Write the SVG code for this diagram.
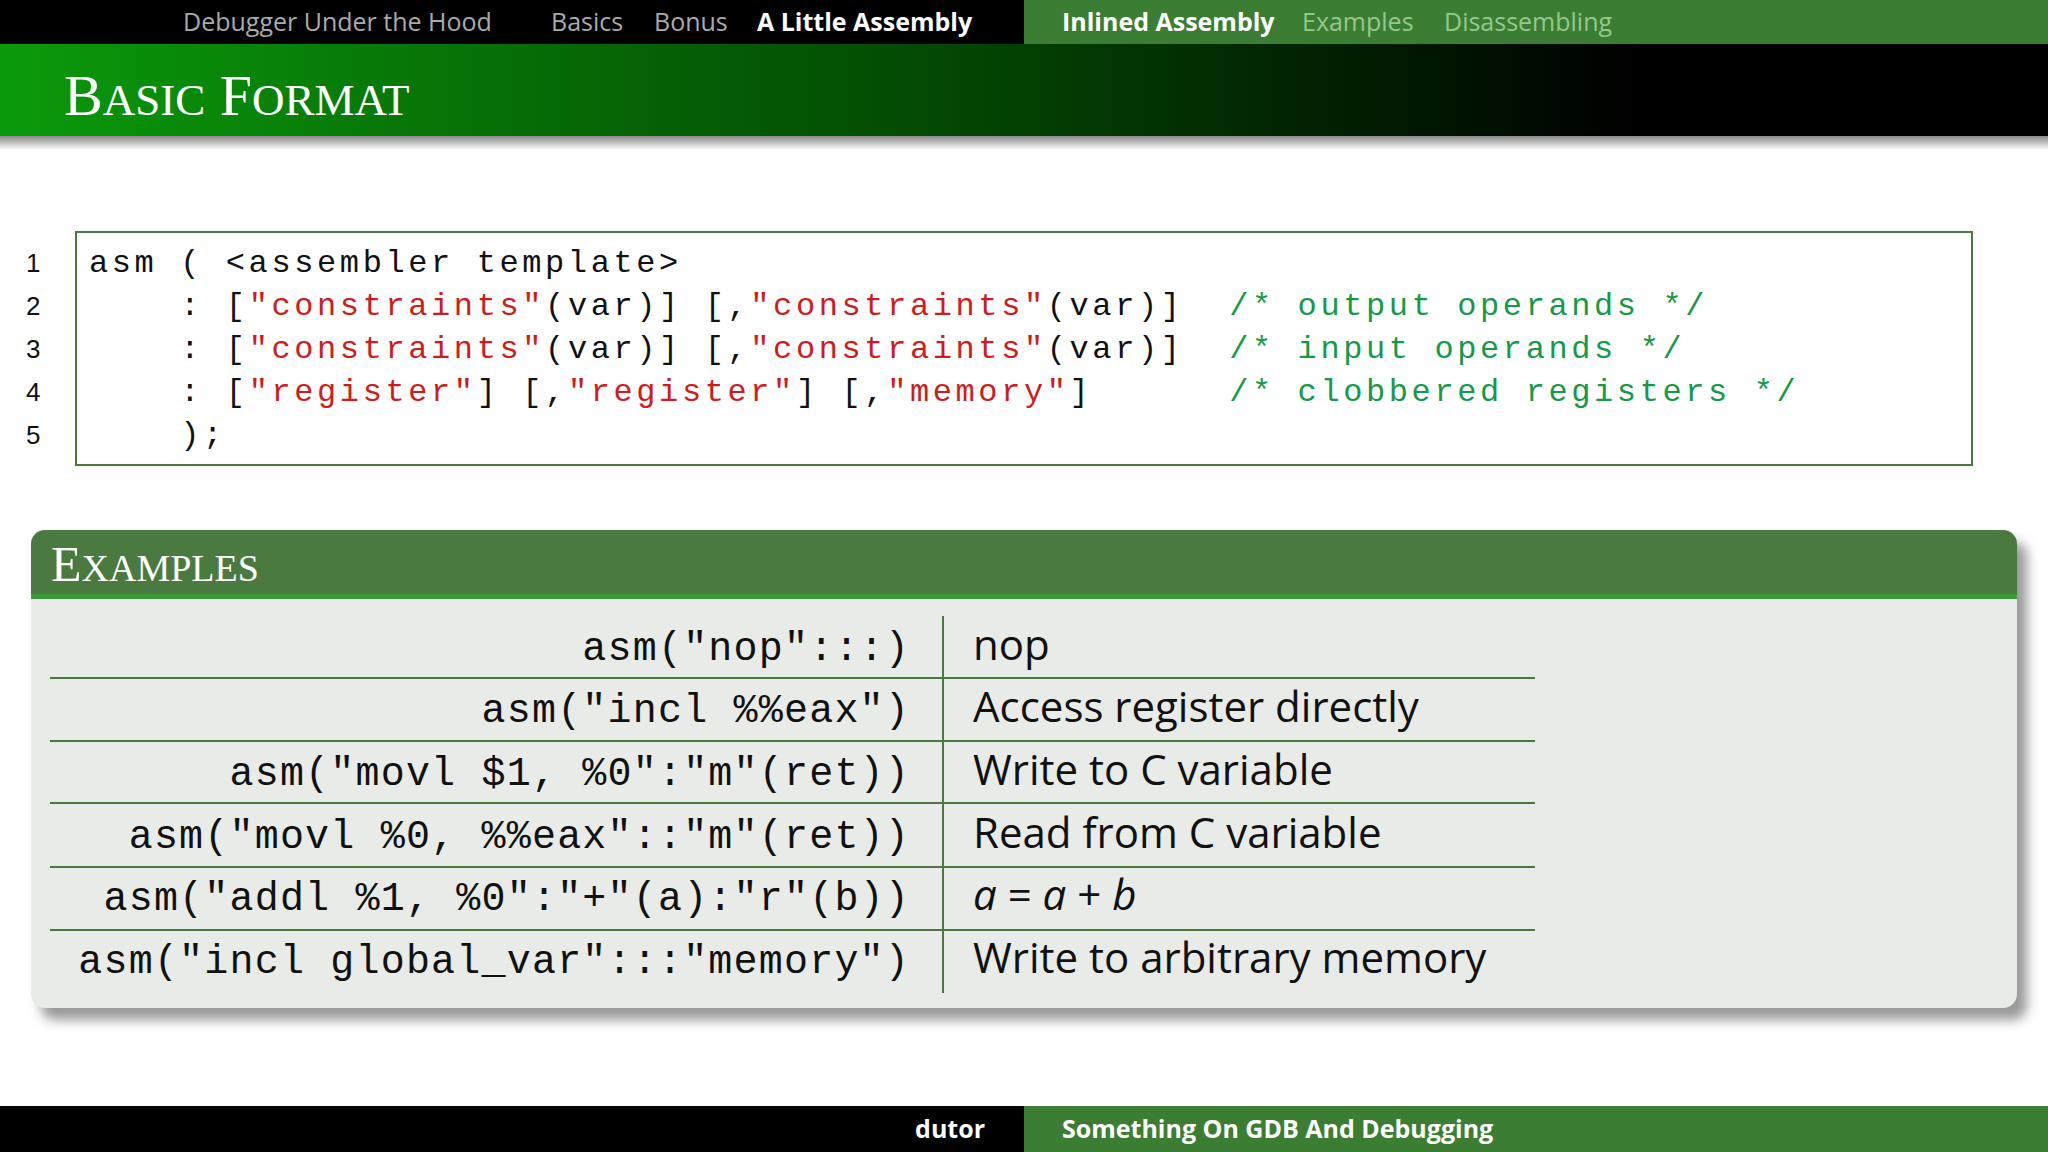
<svg xmlns="http://www.w3.org/2000/svg" width="2048" height="1152" viewBox="0 0 2048 1152">
<defs>
<linearGradient id="tg" x1="0" x2="1" y1="0" y2="0"><stop offset="0" stop-color="#0a9a0a"/><stop offset="0.45" stop-color="#034a03"/><stop offset="0.8" stop-color="#000"/><stop offset="1" stop-color="#000"/></linearGradient>
<linearGradient id="sh" x1="0" x2="0" y1="0" y2="1"><stop offset="0" stop-color="#888"/><stop offset="1" stop-color="#fff"/></linearGradient>
<filter id="bs" x="-5%" y="-5%" width="110%" height="120%"><feGaussianBlur stdDeviation="6"/></filter>
<style>
.nav{font-family:"Open Sans","DejaVu Sans",sans-serif;font-size:25px}
.mono{font-family:"Liberation Mono",monospace;font-size:32px;letter-spacing:3.6px;fill:#111}
.r{fill:#d01c1c}.c{fill:#169a48}
.ln{font-family:"Liberation Sans",sans-serif;font-size:26px;fill:#111}
.tm{font-family:"Liberation Mono",monospace;font-size:40px;letter-spacing:1.2px;fill:#111;text-anchor:end}
.ts{font-family:"Open Sans","DejaVu Sans",sans-serif;font-size:42px;fill:#111}
.hl{stroke:#4a7a40;stroke-width:2}
</style>
</defs>
<rect width="2048" height="1152" fill="#fff"/>
<g id="topbar">
<rect x="0" y="0" width="1024" height="44" fill="#000"/>
<rect x="1024" y="0" width="1024" height="44" fill="#3b7d32"/>
<text class="nav" x="183" y="31" fill="#aaa">Debugger Under the Hood</text>
<text class="nav" x="551" y="31" fill="#aaa">Basics</text>
<text class="nav" x="654" y="31" fill="#aaa">Bonus</text>
<text class="nav" x="757" y="31" fill="#fff" font-weight="bold">A Little Assembly</text>
<text class="nav" x="1062" y="31" fill="#fff" font-weight="bold">Inlined Assembly</text>
<text class="nav" x="1302" y="31" fill="#96c88e">Examples</text>
<text class="nav" x="1444" y="31" fill="#96c88e">Disassembling</text>
</g>
<g id="title">
<rect x="0" y="136" width="2048" height="14" fill="url(#sh)"/>
<rect x="0" y="44" width="2048" height="92" fill="url(#tg)"/>
<text x="64" y="115" font-family="Liberation Serif,serif" fill="#fff" font-size="58">B<tspan font-size="45">ASIC</tspan> F<tspan font-size="45">ORMAT</tspan></text>
</g>
<g id="code">
<rect x="76" y="232" width="1896" height="233" fill="#fff" stroke="#4a7a40" stroke-width="2"/>
<text class="ln" x="26" y="272">1</text>
<text class="ln" x="26" y="315">2</text>
<text class="ln" x="26" y="358">3</text>
<text class="ln" x="26" y="401">4</text>
<text class="ln" x="26" y="444">5</text>
<text class="mono" x="89" y="272">asm ( &lt;assembler template&gt;</text>
<text class="mono" x="89" y="315" xml:space="preserve">    : [<tspan class="r">"constraints"</tspan>(var)] [,<tspan class="r">"constraints"</tspan>(var)]  <tspan class="c">/* output operands */</tspan></text>
<text class="mono" x="89" y="358" xml:space="preserve">    : [<tspan class="r">"constraints"</tspan>(var)] [,<tspan class="r">"constraints"</tspan>(var)]  <tspan class="c">/* input operands */</tspan></text>
<text class="mono" x="89" y="401" xml:space="preserve">    : [<tspan class="r">"register"</tspan>] [,<tspan class="r">"register"</tspan>] [,<tspan class="r">"memory"</tspan>]      <tspan class="c">/* clobbered registers */</tspan></text>
<text class="mono" x="89" y="444" xml:space="preserve">    );</text>
</g>
<g id="examples">
<rect x="41" y="542" width="1986" height="478" rx="14" fill="#999" filter="url(#bs)"/>
<rect x="31" y="530" width="1986" height="478" rx="14" fill="#e8ebe7"/>
<path d="M31 596 V544 a14 14 0 0 1 14 -14 H2003 a14 14 0 0 1 14 14 V596 Z" fill="#4a7a40"/>
<rect x="31" y="594" width="1986" height="5" fill="#3c9a34"/>
<text x="51" y="581" font-family="Liberation Serif,serif" fill="#fff" font-size="50">E<tspan font-size="38">XAMPLES</tspan></text>
</g>
<g id="table">
<line class="hl" x1="943" y1="616" x2="943" y2="993"/>
<line class="hl" x1="50" y1="678" x2="1535" y2="678"/>
<line class="hl" x1="50" y1="741" x2="1535" y2="741"/>
<line class="hl" x1="50" y1="803" x2="1535" y2="803"/>
<line class="hl" x1="50" y1="867" x2="1535" y2="867"/>
<line class="hl" x1="50" y1="930" x2="1535" y2="930"/>
<text class="tm" x="910" y="660">asm("nop":::)</text>
<text class="tm" x="910" y="722">asm("incl %%eax")</text>
<text class="tm" x="910" y="785">asm("movl $1, %0":"m"(ret))</text>
<text class="tm" x="910" y="848">asm("movl %0, %%eax"::"m"(ret))</text>
<text class="tm" x="910" y="910">asm("addl %1, %0":"+"(a):"r"(b))</text>
<text class="tm" x="910" y="973">asm("incl global_var":::"memory")</text>
<text class="ts" x="973" y="660">nop</text>
<text class="ts" x="973" y="722">Access register directly</text>
<text class="ts" x="973" y="785">Write to C variable</text>
<text class="ts" x="973" y="848">Read from C variable</text>
<text class="ts" x="973" y="910"><tspan font-style="italic">a</tspan> = <tspan font-style="italic">a</tspan> + <tspan font-style="italic">b</tspan></text>
<text class="ts" x="973" y="973">Write to arbitrary memory</text>
</g>
<g id="footer">
<rect x="0" y="1106" width="1024" height="46" fill="#000"/>
<rect x="1024" y="1106" width="1024" height="46" fill="#3b7d32"/>
<text class="nav" x="985" y="1138" fill="#fff" font-weight="bold" text-anchor="end">dutor</text>
<text class="nav" x="1062" y="1138" fill="#fff" font-weight="bold">Something On GDB And Debugging</text>
</g>
</svg>
